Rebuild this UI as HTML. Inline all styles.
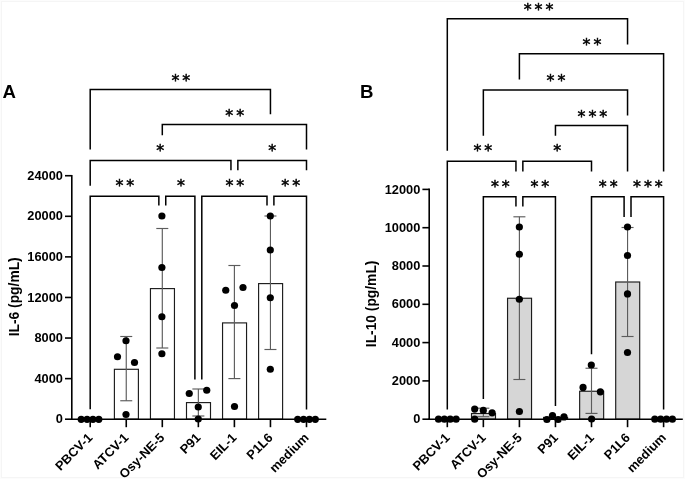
<!DOCTYPE html>
<html lang="en">
<head>
<meta charset="utf-8">
<title>IL-6 and IL-10 cytokine responses</title>
<style>
html,body{margin:0;padding:0;background:#fff;}
body{width:685px;height:479px;overflow:hidden;}
svg{display:block;will-change:transform;}
text{font-family:"Liberation Sans",Arial,Helvetica,sans-serif;fill:#000;}
.tk{font-size:12.8px;font-weight:bold;}
.xl{font-size:12.8px;font-weight:bold;}
.yl{font-size:13.8px;font-weight:bold;}
.pl{font-size:18.6px;font-weight:bold;}
.st{font-family:"DejaVu Sans","Liberation Sans",sans-serif;font-size:15.9px;letter-spacing:2.95px;stroke:#000;stroke-width:0.5px;}
</style>
</head>
<body>
<svg width="685" height="479" viewBox="0 0 685 479">
<rect x="0" y="0" width="685" height="479" fill="#fcfcfc"/>
<rect x="1.5" y="1.5" width="682" height="476" fill="#fff" stroke="#f5f5f5" stroke-width="1"/>
<rect x="114.40" y="369.30" width="24.00" height="49.90" fill="#fff" stroke="#1c1c1c" stroke-width="1.15"/>
<rect x="150.45" y="288.60" width="24.00" height="130.60" fill="#fff" stroke="#1c1c1c" stroke-width="1.15"/>
<rect x="186.50" y="402.60" width="24.00" height="16.60" fill="#fff" stroke="#1c1c1c" stroke-width="1.15"/>
<rect x="222.55" y="322.90" width="24.00" height="96.30" fill="#fff" stroke="#1c1c1c" stroke-width="1.15"/>
<rect x="258.60" y="283.60" width="24.00" height="135.60" fill="#fff" stroke="#1c1c1c" stroke-width="1.15"/>
<line x1="126.25" y1="336.50" x2="126.25" y2="400.75" stroke="#5c5c5c" stroke-width="1.15" stroke-linecap="butt"/>
<line x1="120.25" y1="336.50" x2="132.25" y2="336.50" stroke="#5c5c5c" stroke-width="1.15" stroke-linecap="butt"/>
<line x1="120.25" y1="400.75" x2="132.25" y2="400.75" stroke="#5c5c5c" stroke-width="1.15" stroke-linecap="butt"/>
<line x1="162.30" y1="228.50" x2="162.30" y2="348.00" stroke="#5c5c5c" stroke-width="1.15" stroke-linecap="butt"/>
<line x1="156.30" y1="228.50" x2="168.30" y2="228.50" stroke="#5c5c5c" stroke-width="1.15" stroke-linecap="butt"/>
<line x1="156.30" y1="348.00" x2="168.30" y2="348.00" stroke="#5c5c5c" stroke-width="1.15" stroke-linecap="butt"/>
<line x1="198.35" y1="389.00" x2="198.35" y2="416.00" stroke="#5c5c5c" stroke-width="1.15" stroke-linecap="butt"/>
<line x1="192.35" y1="389.00" x2="204.35" y2="389.00" stroke="#5c5c5c" stroke-width="1.15" stroke-linecap="butt"/>
<line x1="192.35" y1="416.00" x2="204.35" y2="416.00" stroke="#5c5c5c" stroke-width="1.15" stroke-linecap="butt"/>
<line x1="234.40" y1="265.50" x2="234.40" y2="378.60" stroke="#5c5c5c" stroke-width="1.15" stroke-linecap="butt"/>
<line x1="228.40" y1="265.50" x2="240.40" y2="265.50" stroke="#5c5c5c" stroke-width="1.15" stroke-linecap="butt"/>
<line x1="228.40" y1="378.60" x2="240.40" y2="378.60" stroke="#5c5c5c" stroke-width="1.15" stroke-linecap="butt"/>
<line x1="270.45" y1="216.00" x2="270.45" y2="349.50" stroke="#5c5c5c" stroke-width="1.15" stroke-linecap="butt"/>
<line x1="264.45" y1="216.00" x2="276.45" y2="216.00" stroke="#5c5c5c" stroke-width="1.15" stroke-linecap="butt"/>
<line x1="264.45" y1="349.50" x2="276.45" y2="349.50" stroke="#5c5c5c" stroke-width="1.15" stroke-linecap="butt"/>
<line x1="71.80" y1="174.92" x2="71.80" y2="420.00" stroke="#000" stroke-width="1.6" stroke-linecap="butt"/>
<line x1="71.00" y1="419.20" x2="326.30" y2="419.20" stroke="#000" stroke-width="1.6" stroke-linecap="butt"/>
<line x1="65.00" y1="419.20" x2="71.80" y2="419.20" stroke="#000" stroke-width="1.6" stroke-linecap="butt"/>
<text x="62.90" y="423.35" class="tk" text-anchor="end">0</text>
<line x1="65.00" y1="378.62" x2="71.80" y2="378.62" stroke="#000" stroke-width="1.6" stroke-linecap="butt"/>
<text x="62.90" y="382.77" class="tk" text-anchor="end">4000</text>
<line x1="65.00" y1="338.04" x2="71.80" y2="338.04" stroke="#000" stroke-width="1.6" stroke-linecap="butt"/>
<text x="62.90" y="342.19" class="tk" text-anchor="end">8000</text>
<line x1="65.00" y1="297.46" x2="71.80" y2="297.46" stroke="#000" stroke-width="1.6" stroke-linecap="butt"/>
<text x="62.90" y="301.61" class="tk" text-anchor="end">12000</text>
<line x1="65.00" y1="256.88" x2="71.80" y2="256.88" stroke="#000" stroke-width="1.6" stroke-linecap="butt"/>
<text x="62.90" y="261.03" class="tk" text-anchor="end">16000</text>
<line x1="65.00" y1="216.30" x2="71.80" y2="216.30" stroke="#000" stroke-width="1.6" stroke-linecap="butt"/>
<text x="62.90" y="220.45" class="tk" text-anchor="end">20000</text>
<line x1="65.00" y1="175.72" x2="71.80" y2="175.72" stroke="#000" stroke-width="1.6" stroke-linecap="butt"/>
<text x="62.90" y="179.87" class="tk" text-anchor="end">24000</text>
<line x1="90.20" y1="419.20" x2="90.20" y2="427.20" stroke="#000" stroke-width="1.6" stroke-linecap="butt"/>
<text transform="translate(93.20,438.50) rotate(-45)" class="xl" text-anchor="end">PBCV-1</text>
<line x1="126.25" y1="419.20" x2="126.25" y2="427.20" stroke="#000" stroke-width="1.6" stroke-linecap="butt"/>
<text transform="translate(129.25,438.50) rotate(-45)" class="xl" text-anchor="end">ATCV-1</text>
<line x1="162.30" y1="419.20" x2="162.30" y2="427.20" stroke="#000" stroke-width="1.6" stroke-linecap="butt"/>
<text transform="translate(165.30,438.50) rotate(-45)" class="xl" text-anchor="end">Osy-NE-5</text>
<line x1="198.35" y1="419.20" x2="198.35" y2="427.20" stroke="#000" stroke-width="1.6" stroke-linecap="butt"/>
<text transform="translate(201.35,438.50) rotate(-45)" class="xl" text-anchor="end">P91</text>
<line x1="234.40" y1="419.20" x2="234.40" y2="427.20" stroke="#000" stroke-width="1.6" stroke-linecap="butt"/>
<text transform="translate(237.40,438.50) rotate(-45)" class="xl" text-anchor="end">EIL-1</text>
<line x1="270.45" y1="419.20" x2="270.45" y2="427.20" stroke="#000" stroke-width="1.6" stroke-linecap="butt"/>
<text transform="translate(273.45,438.50) rotate(-45)" class="xl" text-anchor="end">P1L6</text>
<line x1="306.50" y1="419.20" x2="306.50" y2="427.20" stroke="#000" stroke-width="1.6" stroke-linecap="butt"/>
<text transform="translate(309.50,438.50) rotate(-45)" class="xl" text-anchor="end">medium</text>
<text transform="translate(19.00,296.80) rotate(-90)" class="yl" text-anchor="middle">IL-6 (pg/mL)</text>
<polyline points="90.20,149.50 90.20,89.50 270.45,89.50 270.45,114.20" fill="none" stroke="#000" stroke-width="1.5" stroke-linejoin="miter"/>
<polyline points="162.30,135.20 162.30,124.50 306.50,124.50 306.50,149.60" fill="none" stroke="#000" stroke-width="1.5" stroke-linejoin="miter"/>
<polyline points="90.20,185.80 90.20,160.50 230.95,160.50 230.95,170.20" fill="none" stroke="#000" stroke-width="1.5" stroke-linejoin="miter"/>
<polyline points="237.85,170.20 237.85,160.50 306.50,160.50 306.50,170.20" fill="none" stroke="#000" stroke-width="1.5" stroke-linejoin="miter"/>
<polyline points="90.20,409.20 90.20,196.20 158.85,196.20 158.85,205.50" fill="none" stroke="#000" stroke-width="1.5" stroke-linejoin="miter"/>
<polyline points="165.75,205.50 165.75,196.20 194.90,196.20 194.90,379.60" fill="none" stroke="#000" stroke-width="1.5" stroke-linejoin="miter"/>
<polyline points="201.80,379.60 201.80,196.20 267.00,196.20 267.00,205.50" fill="none" stroke="#000" stroke-width="1.5" stroke-linejoin="miter"/>
<polyline points="273.90,205.50 273.90,196.20 306.50,196.20 306.50,409.40" fill="none" stroke="#000" stroke-width="1.5" stroke-linejoin="miter"/>
<text x="182.28" y="85.50" class="st" text-anchor="middle">**</text>
<text x="236.18" y="120.50" class="st" text-anchor="middle">**</text>
<text x="161.78" y="156.40" class="st" text-anchor="middle">*</text>
<text x="273.78" y="156.40" class="st" text-anchor="middle">*</text>
<text x="126.37" y="191.30" class="st" text-anchor="middle">**</text>
<text x="182.38" y="191.30" class="st" text-anchor="middle">*</text>
<text x="236.38" y="191.30" class="st" text-anchor="middle">**</text>
<text x="292.18" y="191.30" class="st" text-anchor="middle">**</text>
<circle cx="81.20" cy="419.30" r="3.6" fill="#000"/>
<circle cx="87.07" cy="419.30" r="3.6" fill="#000"/>
<circle cx="92.93" cy="419.30" r="3.6" fill="#000"/>
<circle cx="98.80" cy="419.30" r="3.6" fill="#000"/>
<circle cx="297.70" cy="419.30" r="3.6" fill="#000"/>
<circle cx="303.57" cy="419.30" r="3.6" fill="#000"/>
<circle cx="309.43" cy="419.30" r="3.6" fill="#000"/>
<circle cx="315.30" cy="419.30" r="3.6" fill="#000"/>
<circle cx="126.00" cy="340.75" r="3.6" fill="#000"/>
<circle cx="117.50" cy="356.75" r="3.6" fill="#000"/>
<circle cx="134.50" cy="362.50" r="3.6" fill="#000"/>
<circle cx="126.00" cy="414.50" r="3.6" fill="#000"/>
<circle cx="161.90" cy="216.00" r="3.6" fill="#000"/>
<circle cx="161.90" cy="267.50" r="3.6" fill="#000"/>
<circle cx="161.90" cy="316.75" r="3.6" fill="#000"/>
<circle cx="161.90" cy="353.75" r="3.6" fill="#000"/>
<circle cx="189.25" cy="393.50" r="3.6" fill="#000"/>
<circle cx="206.75" cy="390.25" r="3.6" fill="#000"/>
<circle cx="198.25" cy="407.00" r="3.6" fill="#000"/>
<circle cx="198.25" cy="419.00" r="3.6" fill="#000"/>
<circle cx="225.75" cy="290.25" r="3.6" fill="#000"/>
<circle cx="243.00" cy="287.50" r="3.6" fill="#000"/>
<circle cx="234.50" cy="305.50" r="3.6" fill="#000"/>
<circle cx="234.50" cy="406.50" r="3.6" fill="#000"/>
<circle cx="270.30" cy="216.00" r="3.6" fill="#000"/>
<circle cx="270.30" cy="250.00" r="3.6" fill="#000"/>
<circle cx="270.30" cy="297.75" r="3.6" fill="#000"/>
<circle cx="270.30" cy="369.25" r="3.6" fill="#000"/>
<text x="2.6" y="98.2" class="pl">A</text>
<rect x="471.50" y="413.50" width="24.00" height="5.70" fill="#d6d6d6" stroke="#1c1c1c" stroke-width="1.15"/>
<rect x="507.55" y="298.25" width="24.00" height="120.95" fill="#d6d6d6" stroke="#1c1c1c" stroke-width="1.15"/>
<rect x="543.60" y="417.40" width="24.00" height="1.80" fill="#d6d6d6" stroke="#1c1c1c" stroke-width="1.15"/>
<rect x="579.65" y="391.25" width="24.00" height="27.95" fill="#d6d6d6" stroke="#1c1c1c" stroke-width="1.15"/>
<rect x="615.70" y="282.00" width="24.00" height="137.20" fill="#d6d6d6" stroke="#1c1c1c" stroke-width="1.15"/>
<line x1="483.35" y1="408.20" x2="483.35" y2="416.70" stroke="#5c5c5c" stroke-width="1.15" stroke-linecap="butt"/>
<line x1="477.35" y1="408.20" x2="489.35" y2="408.20" stroke="#5c5c5c" stroke-width="1.15" stroke-linecap="butt"/>
<line x1="477.35" y1="416.70" x2="489.35" y2="416.70" stroke="#5c5c5c" stroke-width="1.15" stroke-linecap="butt"/>
<line x1="519.40" y1="216.80" x2="519.40" y2="379.50" stroke="#5c5c5c" stroke-width="1.15" stroke-linecap="butt"/>
<line x1="513.40" y1="216.80" x2="525.40" y2="216.80" stroke="#5c5c5c" stroke-width="1.15" stroke-linecap="butt"/>
<line x1="513.40" y1="379.50" x2="525.40" y2="379.50" stroke="#5c5c5c" stroke-width="1.15" stroke-linecap="butt"/>
<line x1="591.50" y1="368.25" x2="591.50" y2="413.40" stroke="#5c5c5c" stroke-width="1.15" stroke-linecap="butt"/>
<line x1="585.50" y1="368.25" x2="597.50" y2="368.25" stroke="#5c5c5c" stroke-width="1.15" stroke-linecap="butt"/>
<line x1="585.50" y1="413.40" x2="597.50" y2="413.40" stroke="#5c5c5c" stroke-width="1.15" stroke-linecap="butt"/>
<line x1="627.55" y1="227.50" x2="627.55" y2="336.50" stroke="#5c5c5c" stroke-width="1.15" stroke-linecap="butt"/>
<line x1="621.55" y1="227.50" x2="633.55" y2="227.50" stroke="#5c5c5c" stroke-width="1.15" stroke-linecap="butt"/>
<line x1="621.55" y1="336.50" x2="633.55" y2="336.50" stroke="#5c5c5c" stroke-width="1.15" stroke-linecap="butt"/>
<line x1="429.20" y1="188.60" x2="429.20" y2="420.00" stroke="#000" stroke-width="1.6" stroke-linecap="butt"/>
<line x1="428.40" y1="419.20" x2="682.80" y2="419.20" stroke="#000" stroke-width="1.6" stroke-linecap="butt"/>
<line x1="422.40" y1="419.20" x2="429.20" y2="419.20" stroke="#000" stroke-width="1.6" stroke-linecap="butt"/>
<text x="420.30" y="423.35" class="tk" text-anchor="end">0</text>
<line x1="422.40" y1="380.90" x2="429.20" y2="380.90" stroke="#000" stroke-width="1.6" stroke-linecap="butt"/>
<text x="420.30" y="385.05" class="tk" text-anchor="end">2000</text>
<line x1="422.40" y1="342.60" x2="429.20" y2="342.60" stroke="#000" stroke-width="1.6" stroke-linecap="butt"/>
<text x="420.30" y="346.75" class="tk" text-anchor="end">4000</text>
<line x1="422.40" y1="304.30" x2="429.20" y2="304.30" stroke="#000" stroke-width="1.6" stroke-linecap="butt"/>
<text x="420.30" y="308.45" class="tk" text-anchor="end">6000</text>
<line x1="422.40" y1="266.00" x2="429.20" y2="266.00" stroke="#000" stroke-width="1.6" stroke-linecap="butt"/>
<text x="420.30" y="270.15" class="tk" text-anchor="end">8000</text>
<line x1="422.40" y1="227.70" x2="429.20" y2="227.70" stroke="#000" stroke-width="1.6" stroke-linecap="butt"/>
<text x="420.30" y="231.85" class="tk" text-anchor="end">10000</text>
<line x1="422.40" y1="189.40" x2="429.20" y2="189.40" stroke="#000" stroke-width="1.6" stroke-linecap="butt"/>
<text x="420.30" y="193.55" class="tk" text-anchor="end">12000</text>
<line x1="447.30" y1="419.20" x2="447.30" y2="427.20" stroke="#000" stroke-width="1.6" stroke-linecap="butt"/>
<text transform="translate(450.60,438.50) rotate(-45)" class="xl" text-anchor="end">PBCV-1</text>
<line x1="483.35" y1="419.20" x2="483.35" y2="427.20" stroke="#000" stroke-width="1.6" stroke-linecap="butt"/>
<text transform="translate(486.65,438.50) rotate(-45)" class="xl" text-anchor="end">ATCV-1</text>
<line x1="519.40" y1="419.20" x2="519.40" y2="427.20" stroke="#000" stroke-width="1.6" stroke-linecap="butt"/>
<text transform="translate(522.70,438.50) rotate(-45)" class="xl" text-anchor="end">Osy-NE-5</text>
<line x1="555.45" y1="419.20" x2="555.45" y2="427.20" stroke="#000" stroke-width="1.6" stroke-linecap="butt"/>
<text transform="translate(558.75,438.50) rotate(-45)" class="xl" text-anchor="end">P91</text>
<line x1="591.50" y1="419.20" x2="591.50" y2="427.20" stroke="#000" stroke-width="1.6" stroke-linecap="butt"/>
<text transform="translate(594.80,438.50) rotate(-45)" class="xl" text-anchor="end">EIL-1</text>
<line x1="627.55" y1="419.20" x2="627.55" y2="427.20" stroke="#000" stroke-width="1.6" stroke-linecap="butt"/>
<text transform="translate(630.85,438.50) rotate(-45)" class="xl" text-anchor="end">P1L6</text>
<line x1="663.60" y1="419.20" x2="663.60" y2="427.20" stroke="#000" stroke-width="1.6" stroke-linecap="butt"/>
<text transform="translate(666.90,438.50) rotate(-45)" class="xl" text-anchor="end">medium</text>
<text transform="translate(375.80,303.90) rotate(-90)" class="yl" text-anchor="middle">IL-10 (pg/mL)</text>
<polyline points="447.30,150.80 447.30,18.75 627.55,18.75 627.55,44.60" fill="none" stroke="#000" stroke-width="1.5" stroke-linejoin="miter"/>
<polyline points="519.40,79.60 519.40,53.75 663.60,53.75 663.60,171.40" fill="none" stroke="#000" stroke-width="1.5" stroke-linejoin="miter"/>
<polyline points="483.35,135.80 483.35,90.00 627.55,90.00 627.55,115.60" fill="none" stroke="#000" stroke-width="1.5" stroke-linejoin="miter"/>
<polyline points="555.45,135.80 555.45,125.50 627.55,125.50 627.55,171.40" fill="none" stroke="#000" stroke-width="1.5" stroke-linejoin="miter"/>
<polyline points="447.30,409.40 447.30,161.25 515.95,161.25 515.95,171.60" fill="none" stroke="#000" stroke-width="1.5" stroke-linejoin="miter"/>
<polyline points="522.85,171.60 522.85,161.25 591.50,161.25 591.50,171.40" fill="none" stroke="#000" stroke-width="1.5" stroke-linejoin="miter"/>
<polyline points="483.35,399.00 483.35,196.75 515.95,196.75 515.95,206.60" fill="none" stroke="#000" stroke-width="1.5" stroke-linejoin="miter"/>
<polyline points="522.85,206.60 522.85,196.75 555.45,196.75 555.45,406.00" fill="none" stroke="#000" stroke-width="1.5" stroke-linejoin="miter"/>
<polyline points="591.50,354.30 591.50,196.75 624.10,196.75 624.10,217.00" fill="none" stroke="#000" stroke-width="1.5" stroke-linejoin="miter"/>
<polyline points="631.00,217.00 631.00,196.75 663.60,196.75 663.60,409.40" fill="none" stroke="#000" stroke-width="1.5" stroke-linejoin="miter"/>
<text x="540.02" y="15.20" class="st" text-anchor="middle">***</text>
<text x="593.52" y="50.00" class="st" text-anchor="middle">**</text>
<text x="557.52" y="86.00" class="st" text-anchor="middle">**</text>
<text x="593.88" y="121.50" class="st" text-anchor="middle">***</text>
<text x="484.28" y="156.20" class="st" text-anchor="middle">**</text>
<text x="558.77" y="156.20" class="st" text-anchor="middle">*</text>
<text x="501.78" y="192.40" class="st" text-anchor="middle">**</text>
<text x="541.38" y="192.40" class="st" text-anchor="middle">**</text>
<text x="609.77" y="192.40" class="st" text-anchor="middle">**</text>
<text x="649.38" y="192.40" class="st" text-anchor="middle">***</text>
<circle cx="438.50" cy="419.20" r="3.6" fill="#000"/>
<circle cx="444.37" cy="419.20" r="3.6" fill="#000"/>
<circle cx="450.23" cy="419.20" r="3.6" fill="#000"/>
<circle cx="456.10" cy="419.20" r="3.6" fill="#000"/>
<circle cx="654.80" cy="419.20" r="3.6" fill="#000"/>
<circle cx="660.67" cy="419.20" r="3.6" fill="#000"/>
<circle cx="666.53" cy="419.20" r="3.6" fill="#000"/>
<circle cx="672.40" cy="419.20" r="3.6" fill="#000"/>
<circle cx="474.70" cy="409.10" r="3.6" fill="#000"/>
<circle cx="483.30" cy="410.40" r="3.6" fill="#000"/>
<circle cx="492.10" cy="412.80" r="3.6" fill="#000"/>
<circle cx="474.70" cy="419.20" r="3.6" fill="#000"/>
<circle cx="519.35" cy="227.00" r="3.6" fill="#000"/>
<circle cx="519.35" cy="254.25" r="3.6" fill="#000"/>
<circle cx="519.35" cy="299.25" r="3.6" fill="#000"/>
<circle cx="519.40" cy="411.50" r="3.6" fill="#000"/>
<circle cx="546.90" cy="419.50" r="3.6" fill="#000"/>
<circle cx="552.50" cy="415.60" r="3.6" fill="#000"/>
<circle cx="558.10" cy="419.50" r="3.6" fill="#000"/>
<circle cx="564.00" cy="416.90" r="3.6" fill="#000"/>
<circle cx="591.30" cy="365.00" r="3.6" fill="#000"/>
<circle cx="583.05" cy="387.40" r="3.6" fill="#000"/>
<circle cx="600.35" cy="391.85" r="3.6" fill="#000"/>
<circle cx="591.60" cy="419.00" r="3.6" fill="#000"/>
<circle cx="627.50" cy="227.00" r="3.6" fill="#000"/>
<circle cx="627.50" cy="255.50" r="3.6" fill="#000"/>
<circle cx="627.50" cy="293.90" r="3.6" fill="#000"/>
<circle cx="627.50" cy="352.50" r="3.6" fill="#000"/>
<text x="360.1" y="98.3" class="pl">B</text>
</svg>
</body>
</html>
